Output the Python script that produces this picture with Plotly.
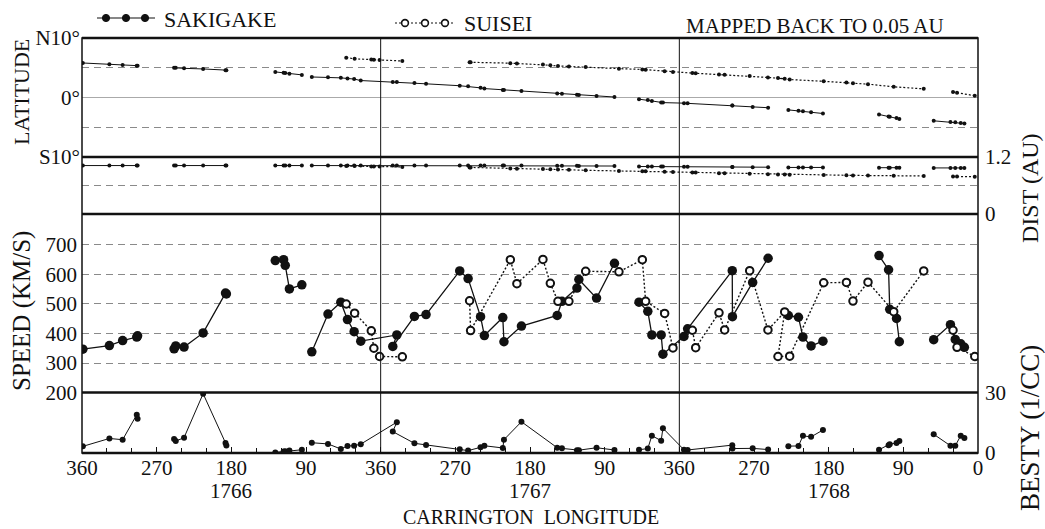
import plotly.graph_objects as go

# ---------------- data ----------------
ROTATIONS = [1766, 1767, 1768]
TICK_LONGITUDES = [360, 270, 180, 90]

# SAKIGAKE : Carrington rotation / longitude of each mapped-back sample (None = data gap)
SAK_ROT = [1766, 1766, 1766, 1766, 1766, None,
           1766, 1766, 1766, 1766, 1766, 1766, None,
           1766, 1766, 1766, 1766, 1766, None,
           1766, 1766, 1766, 1766, 1766, 1766, 1767, 1767, 1767, 1767, 1767, 1767,
           1767, 1767, 1767, 1767, 1767, 1767, 1767, 1767, 1767, 1767, 1767, None,
           1767, 1767, 1767, 1767, 1767, 1768, 1768, 1768, 1768, 1768, 1768, None,
           1768, 1768, 1768, 1768, 1768, None,
           1768, 1768, 1768, 1768, 1768, None,
           1768, 1768, 1768, 1768, 1768]
SAK_LON = [359, 327, 311, 294, 293, None,
           249, 247, 237, 214, 187, 186, None,
           127, 117, 115, 110, 95, None,
           83, 63.5, 48, 40, 32, 24, 340.5, 345.4, 319.3, 305.3, 264.7, 254.6,
           239.6, 235, 212.8, 211.4, 190.3, 147.2, 141.5, 123.4, 121.1, 99.8, 78.2, None,
           48.6, 38, 33.1, 21.9, 19.8, 354.4, 350, 296.2, 296, 271.6, 253, None,
           228.6, 216.4, 211, 201.2, 186.9, None,
           119.3, 107.8, 106.4, 98.2, 94.8, None,
           53.4, 33.2, 27.4, 20.8, 16.4]
SAK_SPEED = [347, 359, 376, 388, 392, None,
             348, 358, 354, 402, 537, 534, None,
             647, 650, 631, 551, 565, None,
             338, 466, 506, 447, 406, 374, 395, 356, 458, 464, 612, 586,
             457, 393, 454, 372, 425, 461, 509, 554, 583, 520, 638, None,
             506, 475, 395, 395, 330, 390, 416, 613, 457, 573, 655, None,
             461, 455, 388, 358, 374, None,
             664, 616, 482, 451, 372, None,
             379, 430, 380, 365, 353]
SAK_DENS = [3.3, 7.2, 6.6, 19, 17, None,
            6.9, 5.9, 7.6, 29.4, 5.0, 3.7, None,
            0.3, 0.7, 0.9, 1.2, 1.6, None,
            5.1, 4.5, 2.0, 3.5, 3.6, 4.4, 15.3, 10.6, 4.8, 4.0, 1.9, 1.2,
            2.8, 3.6, 2.5, 6.6, 15.5, 2.6, 2.3, 1.4, 1.4, 2.6, 1.5, None,
            1.6, 2.2, 8.6, 6.1, 12.3, 1.6, 1.5, 3.9, 2.2, 2.3, 1.7, None,
            3.4, 3.5, 8.5, 8.0, 11.4, None,
            1.6, 3.8, 4.4, 5.0, 5.9, None,
            9.3, 3.6, 3.6, 8.6, 7.5]
SAK_LAT = [5.8, 5.6, 5.45, 5.35, 5.35, None,
           5.0, 5.0, 4.9, 4.8, 4.6, 4.6, None,
           4.3, 4.15, 4.1, 4.0, 3.8, None,
           3.45, 3.4, 3.3, 3.2, 3.1, 2.85, 2.6, 2.62, 2.45, 2.3, 1.98, 1.88,
           1.62, 1.5, 1.28, 1.27, 1.08, 0.67, 0.61, 0.45, 0.42, 0.27, 0.08, None,
           -0.28, -0.44, -0.58, -0.82, -0.86, -0.95, -0.98, -1.35, -1.35, -1.58, -1.72, None,
           -2.08, -2.23, -2.33, -2.48, -2.69, None,
           -2.85, -3.2, -3.25, -3.45, -3.6, None,
           -3.92, -4.1, -4.18, -4.28, -4.37]
SAK_DIST = [1.02, 1.02, 1.02, 1.02, 1.02, None,
            1.02, 1.02, 1.02, 1.02, 1.02, 1.02, None,
            1.02, 1.02, 1.02, 1.02, 1.02, None,
            1.02, 1.02, 1.02, 1.02, 1.02, 1.02, 1.02, 1.02, 1.02, 1.02, 1.02, 1.02,
            1.02, 1.02, 1.02, 1.02, 1.02, 1.015, 1.015, 1.015, 1.01, 1.01, 1.01, None,
            1.0, 1.0, 1.0, 1.0, 1.0, 0.995, 0.995, 0.99, 0.99, 0.985, 0.985, None,
            0.98, 0.98, 0.98, 0.98, 0.98, None,
            0.975, 0.975, 0.975, 0.975, 0.975, None,
            0.97, 0.97, 0.97, 0.97, 0.97]

# SUISEI
SUI_ROT = [1766, 1766, 1766, 1766, 1766, 1767, None,
           1767, 1767, 1767, 1767, 1767, 1767, 1767, 1767, 1767, 1767, 1767, 1767, 1767, 1767,
           1768, 1768, 1768, 1768, 1768, 1768, 1768, 1768, 1768, 1768, 1768, 1768, 1768, 1768, 1768, None,
           1768, 1768, 1768]
SUI_LON = [41.5, 31.4, 11.3, 8.2, 1.3, 333.9, None,
           252.8, 251.6, 203.7, 195.8, 164.4, 155.5, 146.3, 133.1, 112.9, 72.8, 44.6, 40.6, 17.7, 7.7,
           344.3, 340.3, 312.2, 305.4, 275.2, 253.2, 233, 241.1, 227, 186, 158.6, 150.7, 132.6, 101.6, 65.4, None,
           30.1, 25.3, 3.9]
SUI_SPEED = [500, 469, 409, 350, 322, 321, None,
             511, 410, 650, 569, 651, 570, 509, 509, 611, 609, 650, 509, 468, 351,
             411, 352, 470, 412, 613, 412, 473, 322, 323, 572, 573, 510, 574, 474, 612, None,
             411, 353, 322]
SUI_LAT = [6.7, 6.5, 6.37, 6.35, 6.3, 6.14, None,
           5.93, 5.92, 5.77, 5.73, 5.56, 5.42, 5.3, 5.2, 5.12, 4.85, 4.72, 4.67, 4.4, 4.29,
           4.1, 4.07, 3.85, 3.81, 3.63, 3.37, 3.16, 3.26, 3.02, 2.72, 2.53, 2.4, 2.24, 1.8, 1.45, None,
           0.92, 0.8, 0.3]
SUI_DIST = [1.01, 1.01, 1.0, 1.0, 1.0, 0.99, None,
            0.98, 0.98, 0.96, 0.955, 0.945, 0.94, 0.935, 0.93, 0.92, 0.905, 0.9, 0.9, 0.89, 0.885,
            0.875, 0.873, 0.86, 0.857, 0.845, 0.838, 0.83, 0.832, 0.828, 0.82, 0.815, 0.812, 0.81, 0.805, 0.8, None,
            0.79, 0.79, 0.785]

# ---------------- geometry / style ----------------
FIG_W, FIG_H = 1045, 529
M_L, M_R, M_T, M_B = 82, 67, 38, 76
PLOT_W = FIG_W - M_L - M_R
PLOT_H = FIG_H - M_T - M_B
B_LAT_DIST, B_DIST_SPEED, B_SPEED_DENS = 157, 214, 392.5   # panel boundaries, px from top

INK = "#111111"
GRID = "#8a8a8a"
FONT = "Liberation Serif"


def px(x):
    return (x - M_L) / PLOT_W


def py(y):
    return (FIG_H - M_B - y) / PLOT_H


def phase(rots, lons):
    out = []
    for r, l in zip(rots, lons):
        out.append(None if r is None else (r - ROTATIONS[0]) * 360 + (360 - l))
    return out


t_sak = phase(SAK_ROT, SAK_LON)
t_sui = phase(SUI_ROT, SUI_LON)
t_end = 360 * len(ROTATIONS)

dom_dens = [0, py(B_SPEED_DENS)]
dom_speed = [py(B_SPEED_DENS), py(B_DIST_SPEED)]
dom_dist = [py(B_DIST_SPEED), py(B_LAT_DIST)]
dom_lat = [py(B_LAT_DIST), 1]

fig = go.Figure()

solid = dict(color=INK, width=1)
dotted = dict(color=INK, width=1.2, dash="2px,2px")
solid_s = dict(color=INK, width=1.3)
dotted_s = dict(color=INK, width=1.4, dash="2px,2px")

# latitude
fig.add_trace(go.Scatter(x=t_sak, y=SAK_LAT, yaxis="y4", mode="lines+markers",
                         line=solid, marker=dict(size=4, color=INK), name="SAKIGAKE"))
fig.add_trace(go.Scatter(x=t_sui, y=SUI_LAT, yaxis="y4", mode="lines+markers",
                         line=dotted, marker=dict(size=4, color=INK), name="SUISEI"))
# distance
fig.add_trace(go.Scatter(x=t_sak, y=SAK_DIST, yaxis="y3", mode="lines+markers",
                         line=solid, marker=dict(size=4, color=INK), name="SAKIGAKE"))
fig.add_trace(go.Scatter(x=t_sui, y=SUI_DIST, yaxis="y3", mode="lines+markers",
                         line=dotted, marker=dict(size=4, color=INK), name="SUISEI"))
# speed
fig.add_trace(go.Scatter(x=t_sak, y=SAK_SPEED, yaxis="y2", mode="lines+markers",
                         line=solid_s, marker=dict(size=9.5, color=INK), name="SAKIGAKE"))
fig.add_trace(go.Scatter(x=t_sui, y=SUI_SPEED, yaxis="y2", mode="lines+markers",
                         line=dotted_s, marker=dict(size=7.5, color="white", line=dict(color=INK, width=2)),
                         name="SUISEI"))
# density
fig.add_trace(go.Scatter(x=t_sak, y=SAK_DENS, yaxis="y", mode="lines+markers",
                         line=solid, marker=dict(size=6, color=INK), name="SAKIGAKE"))

tickfont = dict(family=FONT, size=21, color=INK)

tickvals, ticktext = [], []
for i, r in enumerate(ROTATIONS):
    for lon in TICK_LONGITUDES:
        tickvals.append(i * 360 + 360 - lon)
        ticktext.append(str(lon))
tickvals.append(t_end)
ticktext.append("0")

fig.update_layout(
    width=FIG_W, height=FIG_H,
    margin=dict(l=M_L, r=M_R, t=M_T, b=M_B),
    paper_bgcolor="white", plot_bgcolor="white",
    showlegend=False,
    font=dict(family=FONT, color=INK),
    xaxis=dict(domain=[0, 1], range=[0, t_end], anchor="y",
               tickvals=tickvals, ticktext=ticktext, ticks="inside", ticklen=6,
               tickcolor=INK, tickwidth=1, tickfont=tickfont, ticklabelstandoff=0,
               minor=dict(dtick=30, tick0=0, ticks="inside", ticklen=5, tickcolor=INK),
               showgrid=False, zeroline=False, showline=False),
    yaxis=dict(domain=dom_dens, range=[0, 30], anchor="x", side="right",
               tickvals=[0, 30], ticks="", tickfont=tickfont, ticklabelstandoff=6,
               showgrid=False, zeroline=False),
    yaxis2=dict(domain=dom_speed, range=[200, 805], anchor="x", side="left",
                tickvals=[200, 300, 400, 500, 600, 700], ticks="", tickfont=tickfont,
                ticklabelstandoff=4,
                showgrid=True, gridcolor=GRID, gridwidth=1, griddash="7px,5px", zeroline=False),
    yaxis3=dict(domain=dom_dist, range=[0, 1.2], anchor="x", side="right",
                tickvals=[0, 1.2], ticktext=["0", "1.2"], ticks="", tickfont=tickfont,
                ticklabelstandoff=6, showgrid=False, zeroline=False,
                minor=dict(tickvals=[0.6], showgrid=True, gridcolor=GRID, griddash="7px,5px", ticks="")),
    yaxis4=dict(domain=dom_lat, range=[-10, 10], anchor="x", side="left",
                tickvals=[-10, 0, 10], ticktext=["S10°", "0°", "N10°"], ticks="",
                tickfont=tickfont, ticklabelstandoff=1,
                showgrid=True, gridcolor="#aaaaaa", gridwidth=1, zeroline=False,
                minor=dict(tickvals=[-5, 5], showgrid=True, gridcolor=GRID, griddash="7px,5px", ticks="")),
)

shapes = []
# outer frame
shapes.append(dict(type="rect", xref="paper", yref="paper", x0=0, x1=1, y0=0, y1=1,
                   line=dict(color=INK, width=1.5), layer="above"))
# heavy panel boundaries
for yb in [0, dom_dens[1], dom_speed[1], dom_dist[1], 1]:
    shapes.append(dict(type="line", xref="paper", yref="paper", x0=0, x1=1, y0=yb, y1=yb,
                       line=dict(color=INK, width=2.5), layer="above"))
# rotation dividers
for i in range(1, len(ROTATIONS)):
    shapes.append(dict(type="line", xref="x", yref="paper", x0=i * 360, x1=i * 360, y0=0, y1=1,
                       line=dict(color=INK, width=1), layer="above"))

# legend glyphs
def circle(cx, cy, r, fill, lw):
    return dict(type="circle", xref="paper", yref="paper",
                x0=px(cx - r), x1=px(cx + r), y0=py(cy + r), y1=py(cy - r),
                fillcolor=fill, line=dict(color=INK, width=lw))

shapes.append(dict(type="line", xref="paper", yref="paper", x0=px(97), x1=px(155), y0=py(18), y1=py(18),
                   line=dict(color=INK, width=1.2)))
for cx in [106, 126, 145]:
    shapes.append(circle(cx, 18, 3.6, INK, 1))
shapes.append(dict(type="line", xref="paper", yref="paper", x0=px(395), x1=px(453), y0=py(23), y1=py(23),
                   line=dict(color=INK, width=1.2, dash="2px,2px")))
for cx in [405, 425, 445]:
    shapes.append(circle(cx, 23, 3.4, "white", 1.6))

fig.update_layout(shapes=shapes)

ann = []
for i, r in enumerate(ROTATIONS):
    ann.append(dict(x=i * 360 + 180, xref="x", y=py(491), yref="paper", text=str(r),
                    showarrow=False, font=dict(family=FONT, size=21, color=INK),
                    xanchor="center", yanchor="middle"))
ann.append(dict(x=px(531), xref="paper", y=py(517), yref="paper",
                text="CARRINGTON\u00a0\u00a0LONGITUDE", showarrow=False,
                font=dict(family=FONT, size=20, color=INK), xanchor="center", yanchor="middle"))
titles = [("LATITUDE", 21, 92, 22), ("SPEED (KM/S)", 22, 311, 25),
          ("DIST (AU)", 1030, 188, 24), ("BESTY (1/CC)", 1030, 428, 27)]
for txt, x, y, s in titles:
    ann.append(dict(x=px(x), xref="paper", y=py(y), yref="paper", text=txt, textangle=-90,
                    showarrow=False, font=dict(family=FONT, size=s, color=INK),
                    xanchor="center", yanchor="middle"))
ann.append(dict(x=px(162), xref="paper", y=py(20), yref="paper", text="SAKIGAKE", showarrow=False,
                font=dict(family=FONT, size=22, color=INK), xanchor="left", yanchor="middle"))
ann.append(dict(x=px(462), xref="paper", y=py(23), yref="paper", text="SUISEI", showarrow=False,
                font=dict(family=FONT, size=22, color=INK), xanchor="left", yanchor="middle"))
ann.append(dict(x=px(684), xref="paper", y=py(26), yref="paper", text="MAPPED BACK TO 0.05 AU",
                showarrow=False, font=dict(family=FONT, size=21, color=INK),
                xanchor="left", yanchor="middle"))
fig.update_layout(annotations=ann)

fig.write_html(
    "out.html",
    config={"displayModeBar": False},
    post_script="document.body.style.margin='0';document.body.style.padding='0';"
                "document.documentElement.style.overflow='hidden';",
)
